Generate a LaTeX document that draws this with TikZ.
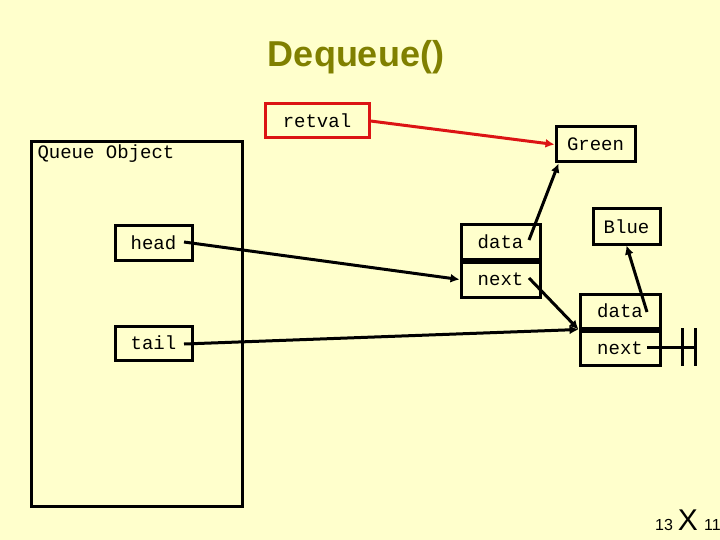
\documentclass[tikz,border=0pt]{standalone}
\usepackage{fontspec}
\setmainfont{Liberation Sans}
\setmonofont{Liberation Mono}
\usetikzlibrary{positioning}
\definecolor{paper}{RGB}{255,255,204}
\definecolor{olive}{RGB}{128,128,0}
\definecolor{retred}{RGB}{220,20,20}
\tikzstyle{rec} = [rectangle,draw,line width=3pt,inner sep=0pt,font=\ttfamily\fontsize{19}{22}\selectfont,text centered]
\tikzstyle{ptr} = [line width=3pt,-{Latex[length=9pt,width=9pt]}]
\usetikzlibrary{arrows.meta}

\begin{document}
\begin{tikzpicture}[x=1pt,y=-1pt]
	\fill[paper] (0,0) rectangle (720,540);
	\useasboundingbox (0,0) rectangle (720,540);

	\node[font=\bfseries\fontsize{36}{40}\selectfont,text=olive](title) at (356,57) {Dequeue()};

	% queue object
	\node[rec,minimum width=211pt,minimum height=365pt,anchor=north west](queue) at (30,140) {};
	\node[font=\ttfamily\fontsize{19}{22}\selectfont,anchor=west](qlabel) at (34,154) {Queue Object};
	\node[rec,minimum width=77pt,minimum height=34pt](head) at (153.5,243) {head\hspace{12pt}};
	\node[rec,minimum width=77pt,minimum height=34pt](tail) at (153.5,343) {tail\hspace{12pt}};

	\node[rec,draw=retred,minimum width=104pt,minimum height=34pt](retval) at (317,121) {retval\hspace{6pt}};
	\node[rec,minimum width=79pt,minimum height=35pt](green) at (595.5,144.5) {Green};
	\node[rec,minimum width=67pt,minimum height=35pt](blue) at (626.5,226.5) {Blue};

	% first list node
	\node[rec,minimum width=79pt,minimum height=34pt](data1) at (500.5,242) {data\hspace{20pt}};
	\node[rec,minimum width=79pt,minimum height=35pt,below=0pt of data1](next1) {next\hspace{20pt}};

	% second list node
	\node[rec,minimum width=80pt,minimum height=34pt](data2) at (620,311) {data\hspace{20pt}};
	\node[rec,minimum width=80pt,minimum height=34pt,below=0pt of data2](next2) {next\hspace{20pt}};

	\coordinate (hdot) at (184,242);
	\coordinate (tdot) at (184,344);
	\coordinate (d1dot) at (529,240);
	\coordinate (n1dot) at (529,278);
	\coordinate (d2dot) at (647,312);
	\coordinate (n2dot) at (647,347);
	\coordinate (gnd) at (695,347);

	\draw[ptr,retred] (retval.east) -- (green.west);
	\draw[ptr] (hdot) -- (next1.west);
	\draw[ptr] (d1dot) -- ([xshift=4pt]green.south west);
	\draw[ptr] (n1dot) -- (data2.south west);
	\draw[ptr] (tdot) -- (data2.south west);
	\draw[ptr] (d2dot) -- (blue.south);
	\draw[line width=3pt] (n2dot) -- (gnd);
	\draw[line width=3pt] (682,328) -- (682,366) (gnd) ++(0,-19) -- ++(0,38);

	\node[font=\fontsize{16}{18}\selectfont,anchor=base](num) at (664,530) {13};
	\node[font=\fontsize{30}{32}\selectfont,anchor=base,right=-2pt of num.base east,anchor=base west](cross) {X};
	\node[font=\fontsize{16}{18}\selectfont,anchor=base west](pages) at ([xshift=-1pt]cross.base east) {11};
\end{tikzpicture}
\end{document}
